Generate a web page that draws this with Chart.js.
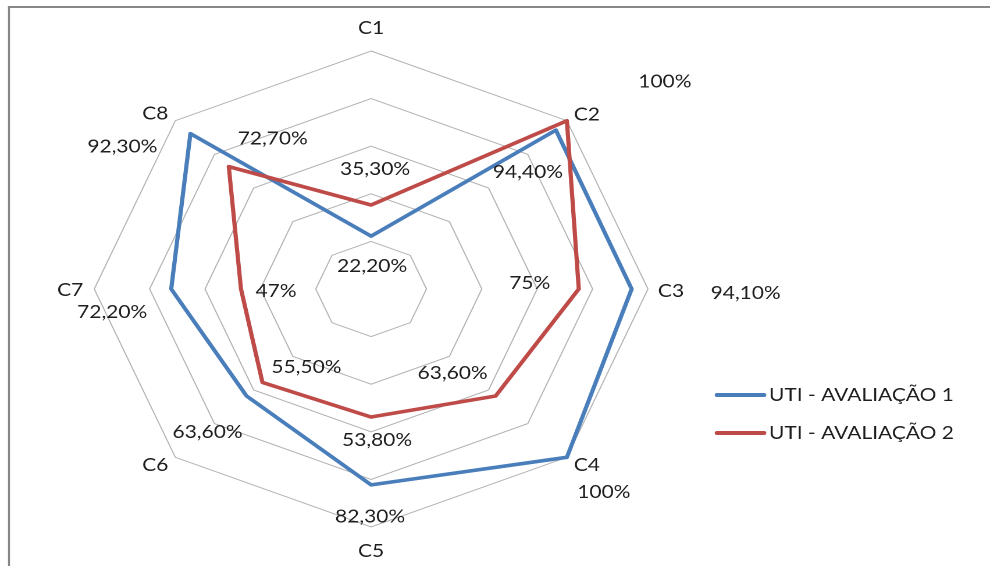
<!DOCTYPE html>
<html>
<head>
<meta charset="utf-8">
<script src="https://cdn.jsdelivr.net/npm/chart.js@4"></script>
<style>
  html, body { margin: 0; padding: 0; background: #ffffff; overflow: hidden; }
  #wrap { position: absolute; left: 0; top: 0; width: 851px; height: 566px; transform-origin: 0 0; }
  canvas { display: block; }
</style>
</head>
<body>
<div id="wrap"><canvas id="c" width="851" height="566"></canvas></div>
<script>
// Categories and the two assessment rounds (percent)
const categories = ['C1', 'C2', 'C3', 'C4', 'C5', 'C6', 'C7', 'C8'];
const seriesNames = ['UTI - AVALIAÇÃO 1', 'UTI - AVALIAÇÃO 2'];
const avaliacao1 = [22.2, 94.4, 94.1, 100, 82.3, 63.6, 72.2, 92.3];
const avaliacao2 = [35.3, 100, 75, 63.6, 53.8, 55.5, 47, 72.7];
const scaleTicks = { min: 0, max: 100, step: 20 };

// The drawing is widened horizontally by this factor
const STRETCH = 990 / 851;
document.getElementById('wrap').style.transform = 'scaleX(' + STRETCH + ')';

const FONT = '18px Lato, "Open Sans", sans-serif';
const TEXT = '#1e1e1e';
const BLUE = '#4a7ebb';
const RED = '#be4b48';

// Label offsets (screen px, from the data point) for each series
const valueLabelOffsets = [
  [[1, 30], [-28, 42], [114, 4], [37, 35], [-1, 32], [-39, 36], [-59, 23], [-68, 13]],
  [[4, -36], [98, -39], [-49, -6], [-43, -23], [6, 23], [44, -15], [35, 2], [44, -28]]
];
// Category name offsets (screen px, from the outer ring vertex)
const categoryOffsets = [[0, -23], [20, -6], [23, 2], [20, 8], [0, 24], [-20, 8], [-24, 1], [-20, -7]];

function fmtPct(v) {
  return Number.isInteger(v) ? v + '%' : v.toFixed(2).replace('.', ',') + '%';
}

const frameAndLabels = {
  id: 'frameAndLabels',
  beforeDraw(chart) {
    const ctx = chart.ctx;
    ctx.save();
    ctx.strokeStyle = '#878787';
    ctx.lineWidth = 2;
    ctx.beginPath();
    ctx.moveTo(8 / STRETCH, 7);
    ctx.lineTo(chart.width, 7);
    ctx.stroke();
    ctx.lineWidth = 2 / STRETCH;
    ctx.beginPath();
    ctx.moveTo(9 / STRETCH, 6);
    ctx.lineTo(9 / STRETCH, chart.height);
    ctx.stroke();
    ctx.restore();
  },
  afterDraw(chart) {
    const ctx = chart.ctx;
    const r = chart.scales.r;
    ctx.save();
    ctx.font = FONT;
    ctx.fillStyle = TEXT;
    ctx.textAlign = 'center';
    ctx.textBaseline = 'middle';

    // category names around the outer ring
    chart.data.labels.forEach((lab, i) => {
      const p = r.getPointPositionForValue(i, r.max);
      const o = categoryOffsets[i];
      ctx.fillText(lab, p.x + o[0] / STRETCH, p.y + o[1]);
    });

    // value labels
    chart.data.datasets.forEach((ds, d) => {
      ds.data.forEach((v, i) => {
        const p = r.getPointPositionForValue(i, v);
        const o = valueLabelOffsets[d][i];
        ctx.fillText(fmtPct(v), p.x + o[0] / STRETCH, p.y + o[1]);
      });
    });

    // legend
    const legendY = [395, 433];
    ctx.textAlign = 'left';
    chart.data.datasets.forEach((ds, d) => {
      const y = legendY[d];
      ctx.strokeStyle = ds.borderColor;
      ctx.lineWidth = 4;
      ctx.lineCap = 'round';
      ctx.beginPath();
      ctx.moveTo(717 / STRETCH, y);
      ctx.lineTo(764 / STRETCH, y);
      ctx.stroke();
      ctx.fillText(ds.label, 769 / STRETCH, y);
    });
    ctx.restore();
  }
};

new Chart(document.getElementById('c'), {
  type: 'radar',
  data: {
    labels: categories,
    datasets: [
      { label: seriesNames[0], data: avaliacao1, borderColor: BLUE, backgroundColor: BLUE, order: 1 },
      { label: seriesNames[1], data: avaliacao2, borderColor: RED, backgroundColor: RED, order: 0 }
    ]
  },
  options: {
    responsive: false,
    devicePixelRatio: 2,
    animation: false,
    layout: { padding: { left: 81, right: 294, top: 51, bottom: 39 } },
    elements: {
      line: { borderWidth: 3.6, tension: 0, fill: false, borderJoinStyle: 'round' },
      point: { radius: 0, hoverRadius: 0 }
    },
    plugins: { legend: { display: false }, tooltip: { enabled: false } },
    scales: {
      r: {
        min: scaleTicks.min,
        max: scaleTicks.max,
        ticks: { display: false, stepSize: scaleTicks.step },
        grid: { color: '#b2b2b2', lineWidth: 1 },
        angleLines: { display: false },
        pointLabels: { display: false }
      }
    }
  },
  plugins: [frameAndLabels]
});
</script>
</body>
</html>
